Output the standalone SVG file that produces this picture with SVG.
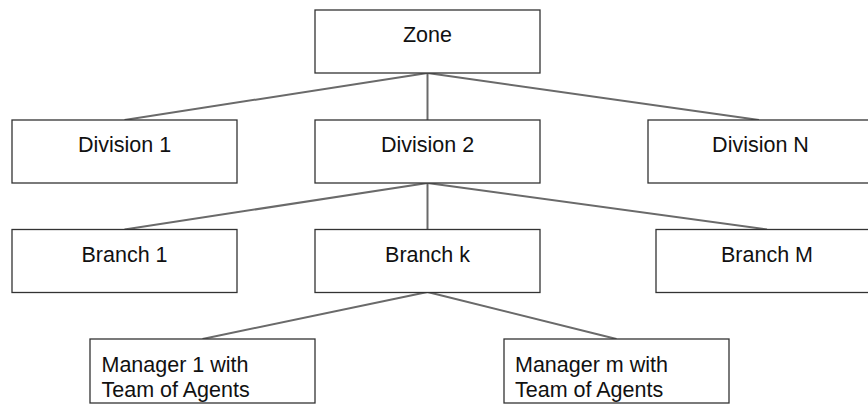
<svg xmlns="http://www.w3.org/2000/svg" width="868" height="404" viewBox="0 0 868 404">
<style>
.box{fill:#fff;stroke:#333;stroke-width:1.3}
.lbl{font-family:"Liberation Sans",Arial,sans-serif;font-size:21.5px;fill:#111}
.c{text-anchor:middle}
.conn line{stroke:#6a6a6a;stroke-width:2}
</style>
<rect width="868" height="404" fill="#fff"/>
<g class="conn">
<line x1="427.5" y1="73" x2="124.5" y2="120"/>
<line x1="427.5" y1="73" x2="427.5" y2="120"/>
<line x1="427.5" y1="73" x2="759" y2="120"/>
<line x1="427.5" y1="183" x2="124.5" y2="229.5"/>
<line x1="427.5" y1="183" x2="427.5" y2="229.5"/>
<line x1="427.5" y1="183" x2="767" y2="229.5"/>
<line x1="427.5" y1="292" x2="202.5" y2="339"/>
<line x1="427.5" y1="292" x2="616.5" y2="339"/>
</g>
<g id="zone"><rect class="box" x="315" y="10" width="225" height="63"/><text class="lbl c" x="427.5" y="42">Zone</text></g>
<g id="division1"><rect class="box" x="12" y="120" width="225" height="63"/><text class="lbl c" x="124.5" y="152">Division 1</text></g>
<g id="division2"><rect class="box" x="315" y="120" width="225" height="63"/><text class="lbl c" x="427.5" y="152">Division 2</text></g>
<g id="divisionN"><rect class="box" x="648" y="120" width="225" height="63"/><text class="lbl c" x="760.5" y="152">Division N</text></g>
<g id="branch1"><rect class="box" x="12" y="229.5" width="225" height="63"/><text class="lbl c" x="124.5" y="261.5">Branch 1</text></g>
<g id="branchk"><rect class="box" x="315" y="229.5" width="225" height="63"/><text class="lbl c" x="427.5" y="261.5">Branch k</text></g>
<g id="branchM"><rect class="box" x="656" y="229.5" width="225" height="63"/><text class="lbl c" x="767" y="261.5">Branch M</text></g>
<g id="manager1"><rect class="box" x="90" y="339" width="225" height="64"/><text class="lbl" x="101.5" y="371.5">Manager 1 with</text><text class="lbl" x="101.5" y="396.5">Team of Agents</text></g>
<g id="managerm"><rect class="box" x="504" y="339" width="225" height="64"/><text class="lbl" x="515" y="371.5">Manager m with</text><text class="lbl" x="515" y="396.5">Team of Agents</text></g>
</svg>
